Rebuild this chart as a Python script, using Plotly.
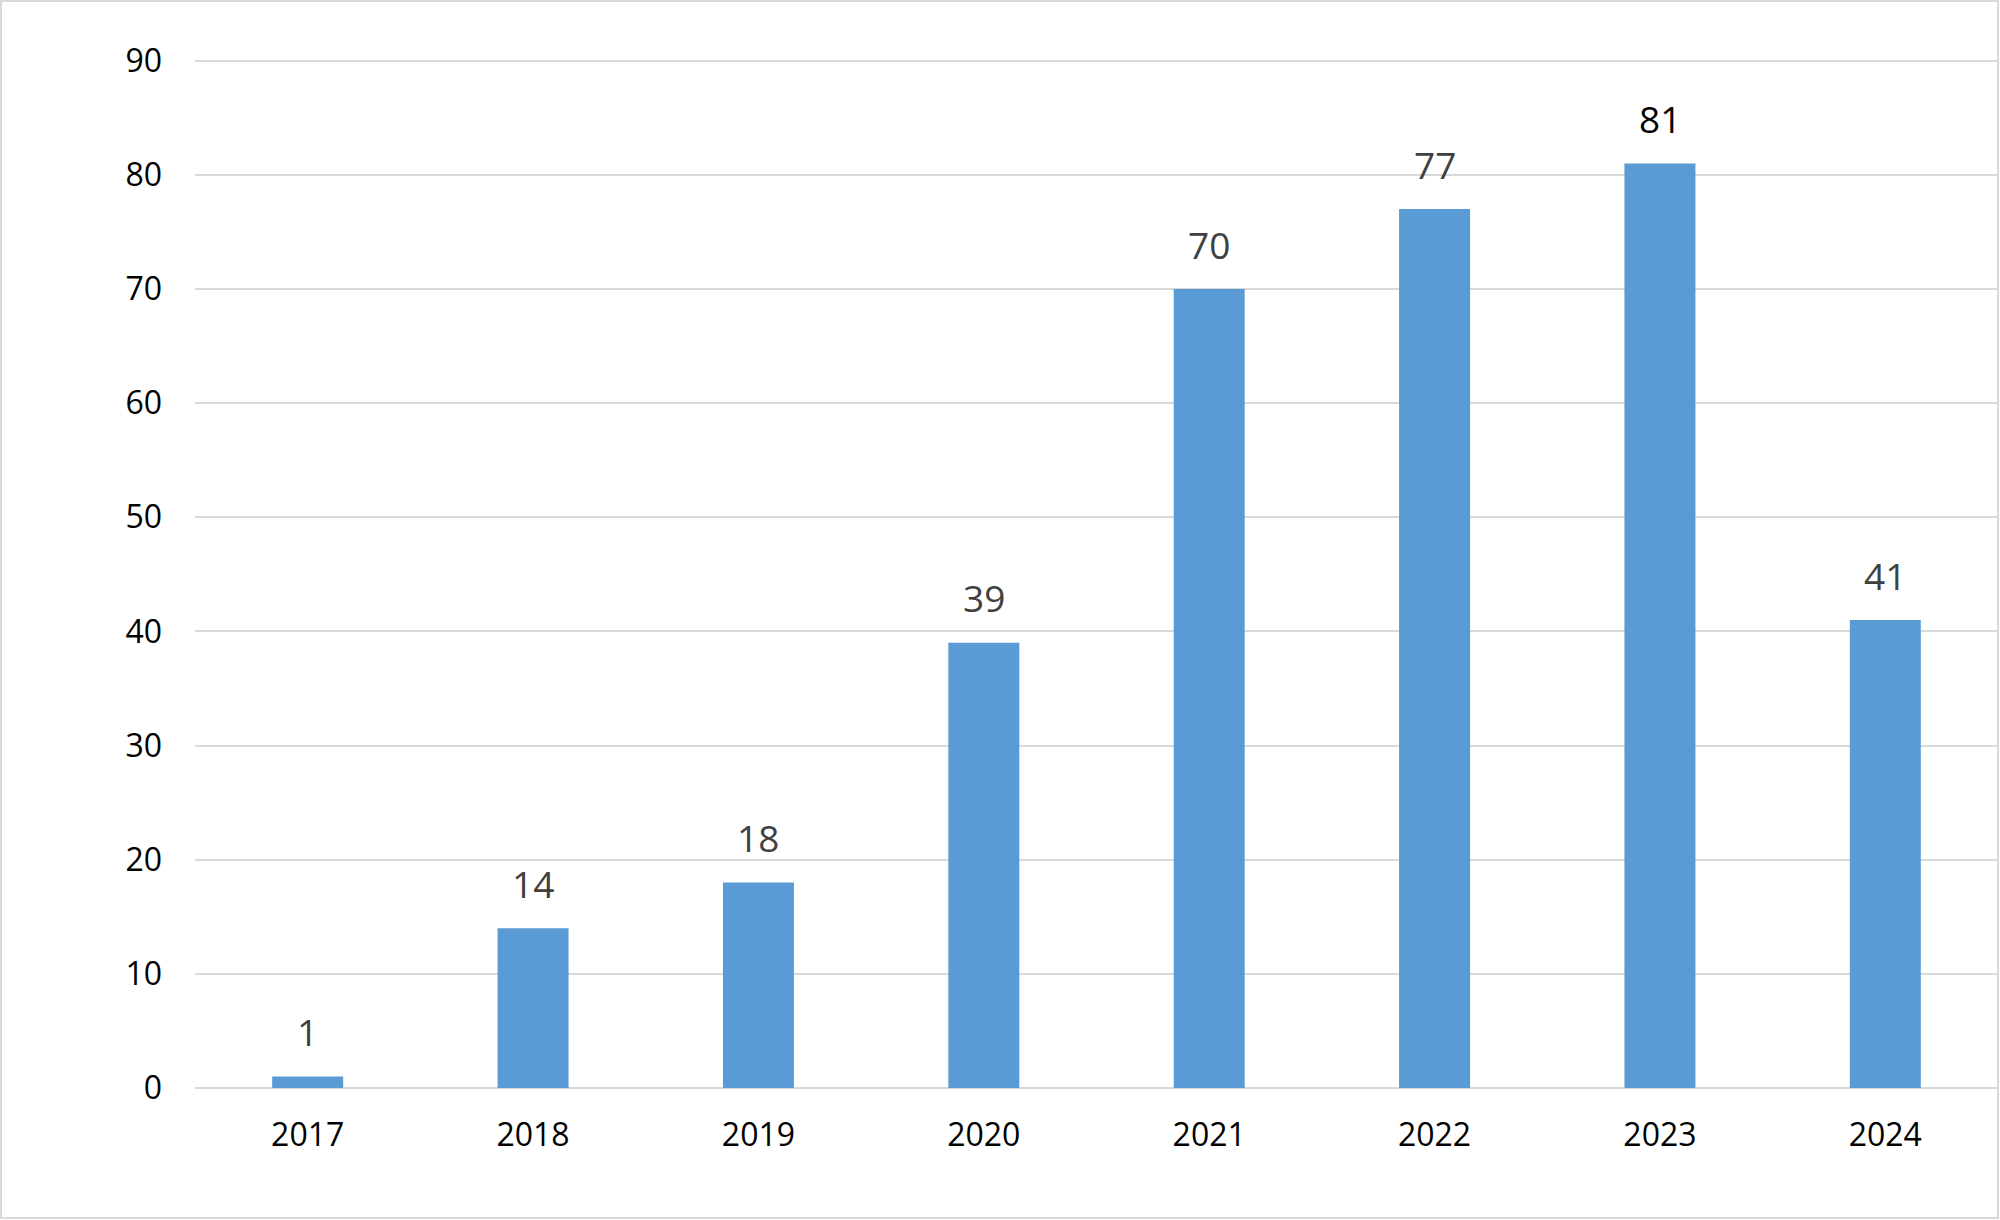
import plotly.graph_objects as go

years = ["2017", "2018", "2019", "2020", "2021", "2022", "2023", "2024"]
counts = [1, 14, 18, 39, 70, 77, 81, 41]
y_ticks = [0, 10, 20, 30, 40, 50, 60, 70, 80, 90]

W, H = 2000, 1220
Y_TOP = 90.15
L, R, B = 195, 2, 132
T = 61 - round((Y_TOP - 90) * (1088 - 61) / 90)
pw, ph = W - L - R, H - T - B

BAR = "#5b9bd5"
GRID = "#d9d9d9"
FONT = "Segoe UI, Open Sans, Noto Sans, sans-serif"

fig = go.Figure()
fig.add_trace(go.Bar(x=years, y=counts, marker=dict(color=BAR, line=dict(width=0)),
                     hoverinfo="x+y"))

max_v = max(counts)
for i, v in enumerate(counts):
    fig.add_annotation(x=i, y=v, text=str(v), showarrow=False,
                       xref="x", yref="y", yanchor="middle", yshift=45,
                       font=dict(family=FONT, size=37,
                                 color="#000000" if v == max_v else "#404040"))

# chart border
def px_x(p):
    return (p - L) / pw

def px_y(p):
    return (H - B - p) / ph

fig.add_shape(type="rect", xref="paper", yref="paper",
              x0=px_x(1), x1=px_x(1998), y0=px_y(1218), y1=px_y(1),
              line=dict(color=GRID, width=2), fillcolor="rgba(0,0,0,0)", layer="below")

fig.update_layout(
    width=W, height=H,
    margin=dict(l=L, r=R, t=T, b=B, pad=0),
    paper_bgcolor="white", plot_bgcolor="white",
    bargap=0.685,
    showlegend=False,
    font=dict(family=FONT, size=32, color="#000000"),
    xaxis=dict(type="category", range=[-0.5, len(years) - 0.5], showgrid=False,
               showline=False, ticks="", ticklabelstandoff=25,
               tickfont=dict(size=32, color="#000000")),
    yaxis=dict(range=[0, Y_TOP], tickvals=y_ticks, showgrid=True, gridcolor=GRID,
               gridwidth=2, zeroline=True, zerolinecolor=GRID, zerolinewidth=2,
               showline=False, ticks="", ticklabelstandoff=32,
               tickfont=dict(size=32, color="#000000")),
)

fig.write_html("out.html",
               config={"displayModeBar": False},
               post_script="document.body.style.margin='0';document.body.style.overflow='hidden';")
